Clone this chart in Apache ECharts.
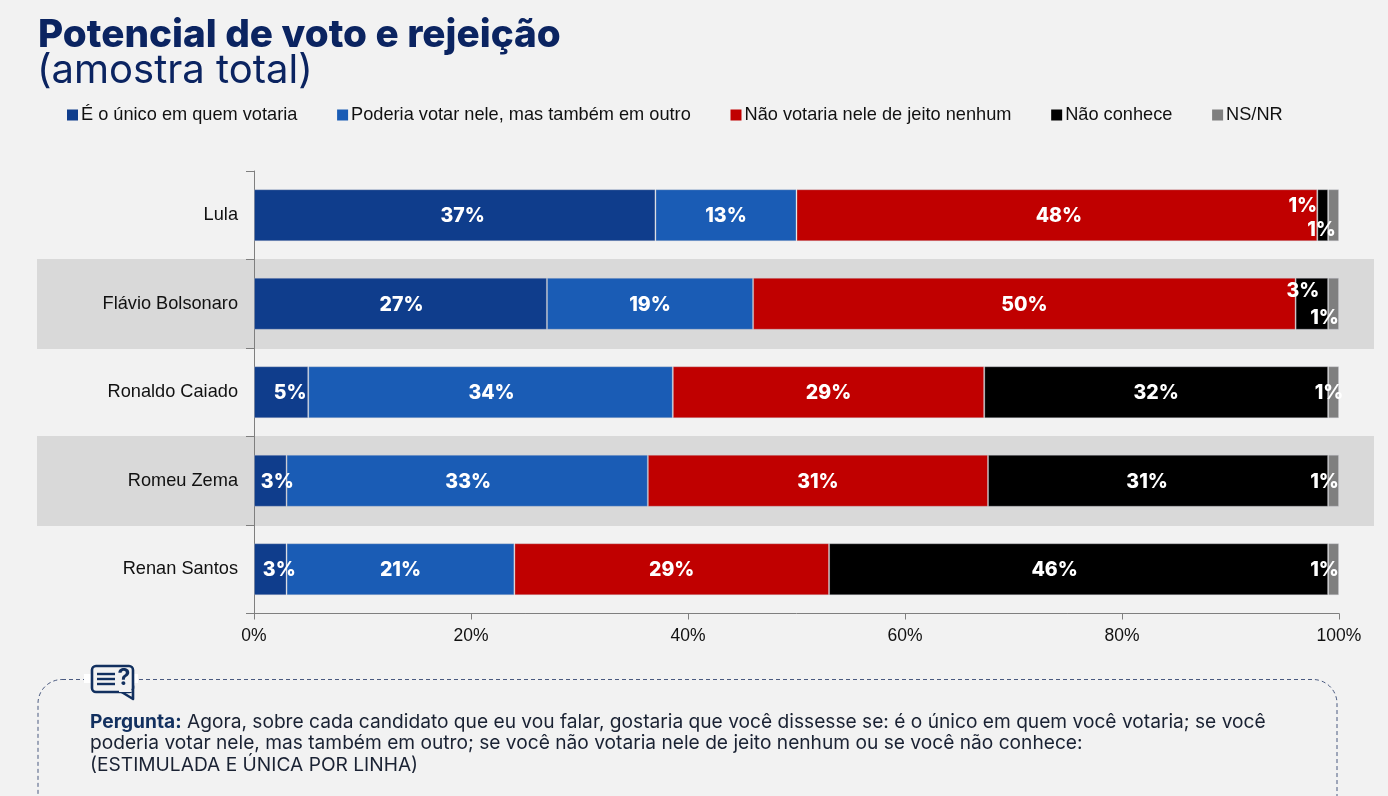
<!DOCTYPE html>
<html><head><meta charset="utf-8">
<style>html,body{margin:0;padding:0;background:#f2f2f2}#c{width:1388px;height:796px}</style>
<script src="https://cdn.jsdelivr.net/npm/echarts@6/dist/echarts.min.js"></script>
</head><body><div id="c"></div>
<script>
const categories = ['Lula','Flávio Bolsonaro','Ronaldo Caiado','Romeu Zema','Renan Santos'];
const seriesNames = ['É o único em quem votaria','Poderia votar nele, mas também em outro','Não votaria nele de jeito nenhum','Não conhece','NS/NR'];
const unico   = [37, 27, 5, 3, 3];
const poderia = [13, 19, 33.6, 33.3, 21];
const naoVotaria = [48, 50, 28.7, 31.35, 29];
const naoConhece = [1, 3, 31.7, 31.35, 46];
const nsnr    = [1, 1, 1, 1, 1];
const unicoLabels   = [37, 27, 5, 3, 3];
const poderiaLabels = [13, 19, 34, 33, 21];
const naoVotariaLabels = [48, 50, 29, 31, 29];
const naoConheceLabels = [1, 3, 32, 31, 46];
const nsnrLabels    = [1, 1, 1, 1, 1];

const colors = ['#0f3d8c','#1a5cb5','#c00000','#000000','#7f7f7f'];
const values = [unico,poderia,naoVotaria,naoConhece,nsnr];
const labels = [unicoLabels,poderiaLabels,naoVotariaLabels,naoConheceLabels,nsnrLabels];
const labelOffsets = {
  '0,0':[8,1],'0,1':[1,1],'0,2':[9,1],'0,3':[7,1],'0,4':[9,1],
  '1,2':[1,1],'1,3':[1,1],
  '2,0':[2,1],
  '3,0':[-20,-9],'3,1':[-9,-13],'3,3':[-11,1],'3,4':[-24,1],
  '4,0':[-12,15],'4,1':[-9,14],'4,2':[-4.5,1],'4,3':[-9,1],'4,4':[-9,1]
};
const font = 'Inter';
const navy = '#0b2461';
const iconColor = '#12305f';

const series = seriesNames.map((name,si)=>({
  name,type:'bar',stack:'t',barWidth:52,
  itemStyle:{color:colors[si],borderColor:'rgba(200,200,210,0.35)',borderWidth:1},
  data:values[si].map((v,ci)=>({
    value:v,
    label:{show:true,position:'inside',formatter:labels[si][ci]+'%',color:'#fff',
      fontFamily:font,fontWeight:800,fontSize:19.5,
      offset:labelOffsets[si+','+ci]||[0,1]}
  }))
}));

const chart = echarts.init(document.getElementById('c'),null,{renderer:'canvas'});
chart.setOption({
  backgroundColor:'#f2f2f2',animation:false,
  textStyle:{fontFamily:'Liberation Sans'},
  title:[
    {text:'Potencial de voto e rejeição',left:33,top:11,textStyle:{fontFamily:font,fontWeight:800,fontSize:38.7,color:navy}},
    {text:'(amostra total)',left:32,top:46,textStyle:{fontFamily:font,fontWeight:400,fontSize:40,color:navy}}
  ],
  legend:{left:62,top:101,itemWidth:11,itemHeight:11,itemGap:39.75,icon:'rect',
    itemStyle:{borderWidth:0},
    textStyle:{fontFamily:'Liberation Sans',fontSize:18.2,color:'#111',padding:[0,0,0,-2]},
    data:seriesNames},
  grid:{left:254,right:49,top:171,height:442.5,containLabel:false},
  xAxis:{type:'value',min:0,max:100,interval:20,
    axisLine:{show:true,lineStyle:{color:'#7f7f7f',width:1}},
    axisTick:{show:true,length:6,lineStyle:{color:'#7f7f7f'}},splitLine:{show:false},
    axisLabel:{formatter:'{value}%',fontFamily:'Liberation Sans',fontSize:17.5,color:'#111',margin:14}},
  yAxis:{type:'category',inverse:true,data:categories,
    axisLine:{show:true,lineStyle:{color:'#7f7f7f',width:1}},
    axisTick:{show:true,length:8,lineStyle:{color:'#7f7f7f'}},
    axisLabel:{fontFamily:'Liberation Sans',fontSize:18.2,color:'#111',margin:16}},
  series,
  graphic:[
    {type:'rect',z:-1,shape:{x:37,y:259,width:1337,height:90},style:{fill:'#d9d9d9'}},
    {type:'rect',z:-1,shape:{x:37,y:436,width:1337,height:90},style:{fill:'#d9d9d9'}},
    {type:'rect',shape:{x:38,y:679.5,width:1299,height:200,r:24},style:{fill:'none',stroke:'#4a5a80',lineWidth:1,lineDash:[4,3]}},
    {type:'rect',shape:{x:84,y:674,width:54,height:9},style:{fill:'#ffffff'}},
    {type:'polygon',shape:{points:[[120,691],[133,699],[133,686]]},style:{fill:'#f2f2f2',stroke:iconColor,lineWidth:2.6,lineJoin:'round'}},
    {type:'rect',shape:{x:92,y:666,width:41,height:26,r:4},style:{fill:'#f2f2f2',stroke:iconColor,lineWidth:2.6}},
    {type:'rect',shape:{x:119,y:690,width:12.6,height:2},style:{fill:'#f2f2f2'}},
    {type:'line',shape:{x1:97,y1:674,x2:115,y2:674},style:{stroke:iconColor,lineWidth:2.4}},
    {type:'line',shape:{x1:97,y1:679,x2:115,y2:679},style:{stroke:iconColor,lineWidth:2.4}},
    {type:'line',shape:{x1:97,y1:684,x2:115,y2:684},style:{stroke:iconColor,lineWidth:2.4}},
    {type:'text',style:{x:117.5,y:667,text:'?',fill:iconColor,font:'700 23px Inter'}},
    {type:'text',style:{x:90,y:711,lineHeight:21.5,font:'400 19.17px Inter',fill:'#1a2233',
      text:'{b|Pergunta:} Agora, sobre cada candidato que eu vou falar, gostaria que você dissesse se: é o único em quem você votaria; se você\npoderia votar nele, mas também em outro; se você não votaria nele de jeito nenhum ou se você não conhece:\n(ESTIMULADA E ÚNICA POR LINHA)',
      rich:{b:{font:'700 19.17px Inter',fill:iconColor,lineHeight:21.5}}}}
  ]
});
</script></body></html>
